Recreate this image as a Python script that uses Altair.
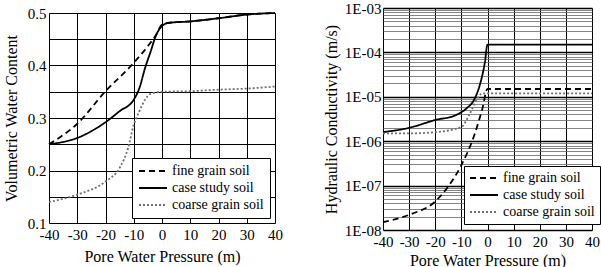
import altair as alt
import pandas as pd

FONT = "Liberation Serif"
series_names = ["fine grain soil", "case study soil", "coarse grain soil"]

# ---- Left panel: volumetric water content vs pore water pressure ----
vwc_fine_x = [-40, -30, -20, -10, -5, -2, 0, 2, 10, 20, 30, 40]
vwc_fine_y = [0.25, 0.289, 0.351, 0.405, 0.437, 0.459, 0.478, 0.481, 0.484, 0.49, 0.497, 0.5]
vwc_case_x = [-40, -30, -20, -15, -10, -8, -6, -4, -2, 0, 2, 10, 20, 30, 40]
vwc_case_y = [0.25, 0.262, 0.292, 0.313, 0.335, 0.357, 0.395, 0.427, 0.459, 0.475, 0.481, 0.484, 0.49, 0.497, 0.5]
vwc_coarse_x = [-40, -30, -20, -15, -12, -10, -8, -6, -4, 0, 10, 20, 30, 40]
vwc_coarse_y = [0.14, 0.154, 0.179, 0.205, 0.243, 0.287, 0.313, 0.335, 0.346, 0.35, 0.351, 0.354, 0.356, 0.36]

# ---- Right panel: hydraulic conductivity vs pore water pressure ----
k_fine_x = [-40, -30, -20, -15, -10, -5, -2, 0, 10, 20, 30, 40]
k_fine_y = [1.5e-8, 2.2e-8, 4.4e-8, 9.6e-8, 2.9e-7, 1.4e-6, 5.3e-6, 1.5e-5, 1.5e-5, 1.5e-5, 1.5e-5, 1.5e-5]
k_case_x = [-40, -30, -20, -12, -8, -5, -3, -1, 0, 10, 20, 30, 40]
k_case_y = [1.6e-6, 2.0e-6, 3.0e-6, 3.9e-6, 5.5e-6, 8.9e-6, 1.8e-5, 6.0e-5, 1.5e-4, 1.5e-4, 1.5e-4, 1.5e-4, 1.5e-4]
k_coarse_x = [-40, -30, -20, -10, -7, -4, -2, 0, 10, 20, 30, 40]
k_coarse_y = [1.5e-6, 1.5e-6, 1.6e-6, 2.1e-6, 3.9e-6, 8.9e-6, 1.2e-5, 1.2e-5, 1.2e-5, 1.2e-5, 1.2e-5, 1.2e-5]

x_ticks = [-40, -30, -20, -10, 0, 10, 20, 30, 40]
vwc_ticks = [0.1, 0.15, 0.2, 0.25, 0.3, 0.35, 0.4, 0.45, 0.5]
k_decades = [-8, -7, -6, -5, -4]
k_ticks = [m * 10.0 ** e for e in k_decades for m in range(1, 10)] + [1e-3]


def build(groups):
    rows = []
    for i, (name, xs, ys) in enumerate(groups):
        for x, y in zip(xs, ys):
            rows.append({"series": name, "p": x, "v": y, "ord": i})
    return pd.DataFrame(rows)


left_df = build([
    (series_names[0], vwc_fine_x, vwc_fine_y),
    (series_names[1], vwc_case_x, vwc_case_y),
    (series_names[2], vwc_coarse_x, vwc_coarse_y),
])
right_df = build([
    (series_names[0], k_fine_x, k_fine_y),
    (series_names[1], k_case_x, k_case_y),
    (series_names[2], k_coarse_x, k_coarse_y),
])


def legend(lx, ly, pad):
    return alt.Legend(
        title=None, orient="none", legendX=lx, legendY=ly,
        symbolType="stroke", symbolSize=784, symbolStrokeWidth=2,
        labelFont=FONT, labelFontSize=14, labelColor="black",
        strokeColor="black", fillColor="white", padding=pad,
        rowPadding=3, labelOffset=4, clipHeight=14,
    )


def encodings(lx, ly, pad):
    lg = legend(lx, ly, pad)
    return dict(
        color=alt.Color("series:N", sort=series_names,
                        scale=alt.Scale(domain=series_names, range=["black", "black", "#6f6f6f"]),
                        legend=lg),
        strokeDash=alt.StrokeDash("series:N", sort=series_names,
                                  scale=alt.Scale(domain=series_names, range=[[6, 4], [1, 0], [2, 2]]),
                                  legend=lg),
        detail="series:N",
        order="ord:Q",
    )


def x_axis(title_pad):
    return alt.Axis(
        values=x_ticks, title="Pore Water Pressure (m)", titleFont=FONT, titleFontSize=16,
        titleFontWeight="normal", titleColor="black", labelFont=FONT, labelFontSize=15,
        labelColor="black", labelFlush=False, labelOverlap=False, tickSize=0, domain=False,
        labelExpr="'' + datum.value",
        gridColor="black", gridWidth=1, gridOpacity=1, labelPadding=4, titlePadding=title_pad,
    )


left = alt.Chart(left_df).mark_line(interpolate="monotone", strokeWidth=1.8).encode(
    x=alt.X("p:Q", scale=alt.Scale(domain=[-40, 40], nice=False), axis=x_axis(6)),
    y=alt.Y("v:Q", scale=alt.Scale(domain=[0.1, 0.5], nice=False, zero=False),
            axis=alt.Axis(values=vwc_ticks, title="Volumetric Water Content",
                          labelExpr="abs(datum.value*10 - round(datum.value*10)) < 1e-6 ? format(datum.value, '.1f') : ''",
                          titleFont=FONT, titleFontSize=16, titleFontWeight="normal", titleColor="black",
                          labelFont=FONT, labelFontSize=15, labelColor="black", labelOverlap=False,
                          tickSize=0, domain=False, gridColor="black", gridWidth=1, gridOpacity=1,
                          labelPadding=3, titlePadding=8)),
    **encodings(83, 150, 6),
).properties(width=226, height=210)

# invisible spacer that lowers the left panel relative to the right one
spacer = alt.Chart(pd.DataFrame({"a": [0]})).mark_point(opacity=0, size=1).encode(
    x=alt.value(0), y=alt.value(0.5)
).properties(width=226, height=1, view=alt.ViewBackground(strokeOpacity=0))

decade_test = "abs(log(datum.value)/LN10 - round(log(datum.value)/LN10)) < 1e-6"
right = alt.Chart(right_df).mark_line(interpolate="monotone", strokeWidth=1.8).encode(
    x=alt.X("p:Q", scale=alt.Scale(domain=[-40, 40], nice=False), axis=x_axis(3)),
    y=alt.Y("v:Q", scale=alt.Scale(type="log", domain=[1e-8, 1e-3], nice=False),
            axis=alt.Axis(values=k_ticks, title="Hydraulic Conductivity (m/s)",
                          labelExpr=decade_test + " ? '1E-0' + (-round(log(datum.value)/LN10)) : ''",
                          titleFont=FONT, titleFontSize=16, titleFontWeight="normal", titleColor="black",
                          labelFont=FONT, labelFontSize=15, labelColor="black", labelOverlap=False,
                          tickSize=0, domain=False,
                          gridColor={"condition": {"test": decade_test, "value": "black"}, "value": "#666666"},
                          gridWidth={"condition": {"test": decade_test, "value": 1.6}, "value": 0.8},
                          gridOpacity=1, labelPadding=2, titlePadding=5)),
    **encodings(81, 158, 5),
).properties(width=209, height=222)

left_col = alt.vconcat(spacer, left, spacing=-4)

chart = alt.hconcat(left_col, right, spacing=39).resolve_scale(
    color="independent", strokeDash="independent"
).configure_view(stroke="black", strokeWidth=1.5).configure(
    background="white", font=FONT
).properties(
    padding={"left": 2, "top": 0, "right": 0, "bottom": 0},
)

chart.save("out.html", embed_options={"renderer": "svg", "actions": False})
